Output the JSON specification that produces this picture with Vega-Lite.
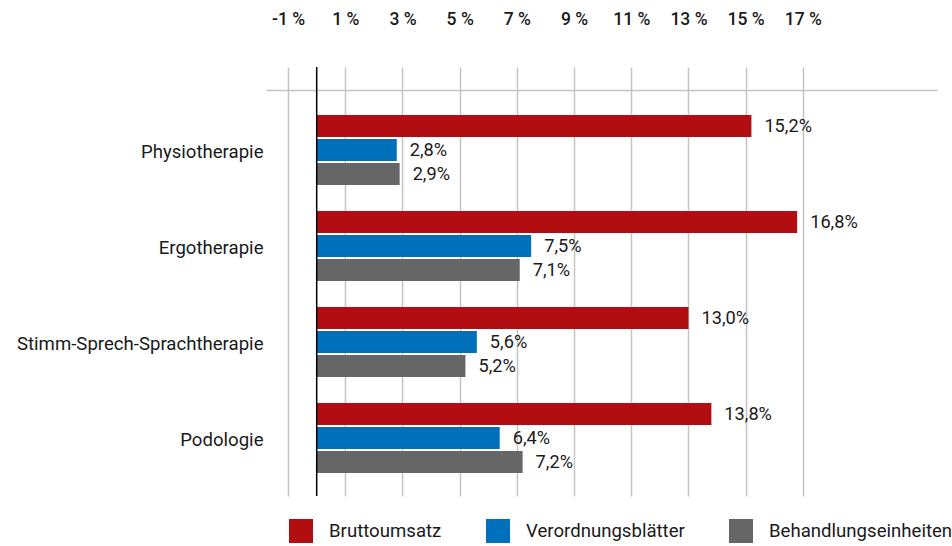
{
  "$schema": "https://vega.github.io/schema/vega-lite/v6.json",
  "autosize": "none",
  "padding": {"left": 266, "top": 67, "right": 15, "bottom": 50},
  "width": 671,
  "height": 429,
  "background": "white",
  "config": {
    "font": "Roboto",
    "view": {"stroke": null}
  },
  "data": {
    "values": [
      {"cat": "Physiotherapie", "series": "Bruttoumsatz", "value": 15.2},
      {"cat": "Physiotherapie", "series": "Verordnungsblätter", "value": 2.8},
      {"cat": "Physiotherapie", "series": "Behandlungseinheiten", "value": 2.9},
      {"cat": "Ergotherapie", "series": "Bruttoumsatz", "value": 16.8},
      {"cat": "Ergotherapie", "series": "Verordnungsblätter", "value": 7.5},
      {"cat": "Ergotherapie", "series": "Behandlungseinheiten", "value": 7.1},
      {"cat": "Stimm-Sprech-Sprachtherapie", "series": "Bruttoumsatz", "value": 13.0},
      {"cat": "Stimm-Sprech-Sprachtherapie", "series": "Verordnungsblätter", "value": 5.6},
      {"cat": "Stimm-Sprech-Sprachtherapie", "series": "Behandlungseinheiten", "value": 5.2},
      {"cat": "Podologie", "series": "Bruttoumsatz", "value": 13.8},
      {"cat": "Podologie", "series": "Verordnungsblätter", "value": 6.4},
      {"cat": "Podologie", "series": "Behandlungseinheiten", "value": 7.2}
    ]
  },
  "transform": [
    {"calculate": "replace(format(datum.value, '.1f'), '.', ',') + '%'", "as": "label"}
  ],
  "encoding": {
    "y": {
      "field": "cat", "type": "nominal",
      "sort": ["Physiotherapie", "Ergotherapie", "Stimm-Sprech-Sprachtherapie", "Podologie"],
      "scale": {"paddingInner": 0.271, "paddingOuter": 0.37, "align": 0.676},
      "axis": {"title": null, "domain": false, "ticks": false, "labelPadding": 3, "labelFontSize": 18.6, "labelColor": "#1a1a1a", "labelLimit": 400, "labelOffset": 2}
    },
    "yOffset": {
      "field": "series", "type": "nominal",
      "sort": ["Bruttoumsatz", "Verordnungsblätter", "Behandlungseinheiten"],
      "scale": {"paddingInner": 0.083, "paddingOuter": 0}
    },
    "x": {
      "field": "value", "type": "quantitative",
      "scale": {"domain": [-1.773, 21.69], "nice": false, "zero": false},
      "axis": {
        "title": null, "orient": "top", "values": [-1, 1, 3, 5, 7, 9, 11, 13, 15, 17],
        "labelExpr": "datum.value + ' %'",
        "grid": true, "gridColor": "#c4c4c4", "gridWidth": 1.5,
        "domain": true, "domainColor": "#c4c4c4", "domainWidth": 1.5,
        "ticks": false, "offset": -23, "labelPadding": 62,
        "labelFontSize": 17.5, "labelFontWeight": 500, "labelColor": "#1a1a1a"
      }
    }
  },
  "layer": [
    {
      "mark": {"type": "bar"},
      "encoding": {
        "x2": {"datum": 0},
        "color": {
          "field": "series", "type": "nominal",
          "sort": ["Bruttoumsatz", "Verordnungsblätter", "Behandlungseinheiten"],
          "scale": {"domain": ["Bruttoumsatz", "Verordnungsblätter", "Behandlungseinheiten"], "range": ["#b20e12", "#0070ba", "#666666"]},
          "legend": {
            "title": null, "orient": "none", "direction": "horizontal",
            "legendX": 23, "legendY": 452,
            "symbolType": "square", "symbolSize": 576, "symbolStrokeWidth": 0, "symbolOpacity": 1,
            "labelFontSize": 18.6, "labelColor": "#1a1a1a", "labelOffset": 16, "columnPadding": 44, "labelLimit": 300
          }
        }
      }
    },
    {
      "mark": {"type": "text", "align": "left", "baseline": "middle", "dx": 13, "dy": 1, "fontSize": 18.2, "color": "#1a1a1a"},
      "encoding": {"text": {"field": "label"}}
    },
    {
      "data": {"values": [{"z": 0}]},
      "mark": {"type": "rule", "color": "#000000", "strokeWidth": 1.5},
      "encoding": {"x": {"field": "z", "type": "quantitative"}, "y": null, "yOffset": null}
    }
  ]
}
